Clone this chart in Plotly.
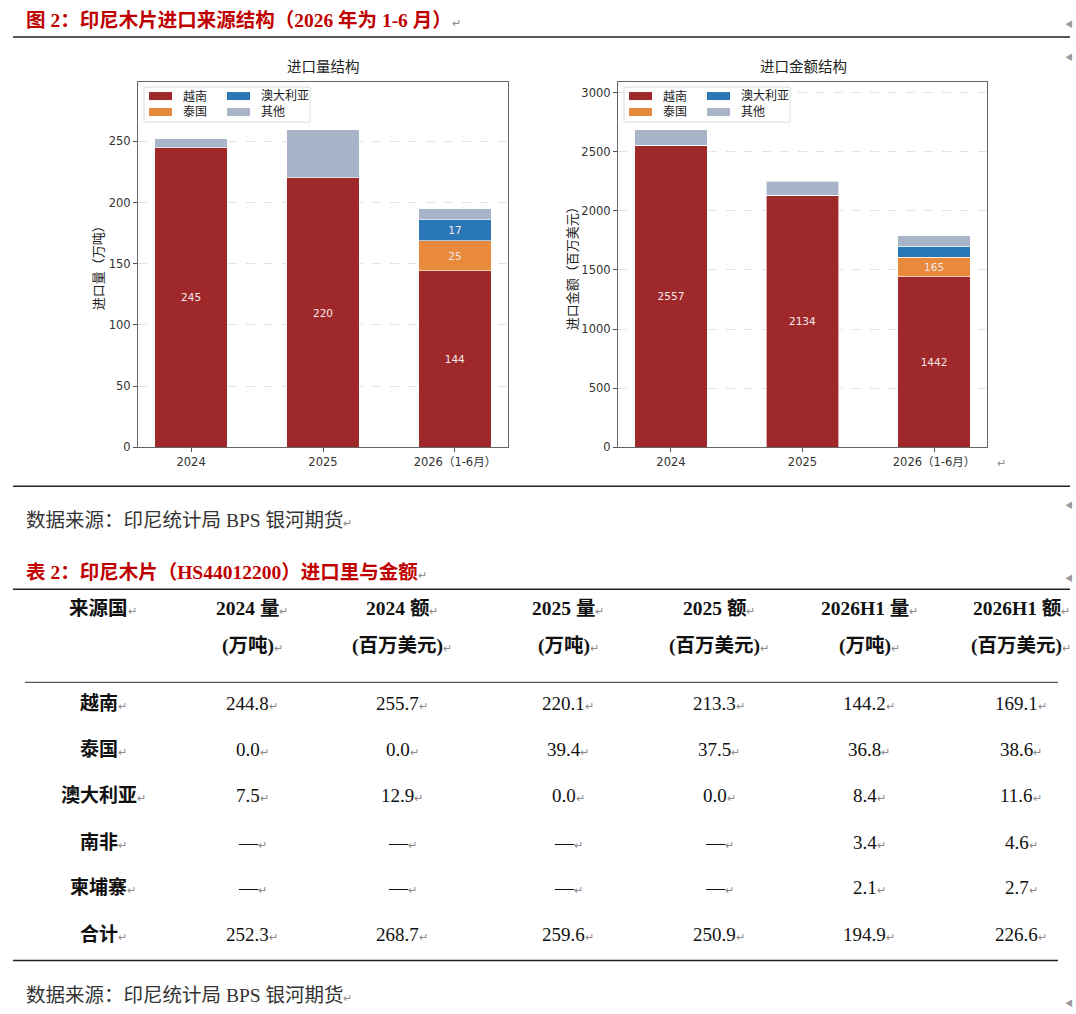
import plotly.graph_objects as go

# ---- chart data ----
years = ["2024", "2025", "2026（1-6月）"]

vol_vn = [244.8, 220.1, 144.2]
vol_th = [0, 0, 24.6]
vol_au = [0, 0, 17.1]
vol_other = [7.5, 39.5, 8.9]
vol_vn_lbl = ["245", "220", "144"]
vol_th_lbl = ["", "", "25"]
vol_au_lbl = ["", "", "17"]

val_vn = [2557, 2134, 1442]
val_th = [0, 0, 165]
val_au = [0, 0, 95]
val_other = [130, 117, 88]
val_vn_lbl = ["2557", "2134", "1442"]
val_th_lbl = ["", "", "165"]

series_names = ["越南", "泰国", "澳大利亚", "其他"]
series_colors = ["#9f282b", "#e8893b", "#2a77b7", "#a8b4c8"]

# ---- table data ----
tbl_rows = ["越南", "泰国", "澳大利亚", "南非", "柬埔寨", "合计"]
tbl_head = ["来源国", "2024 量", "2024 额", "2025 量", "2025 额", "2026H1 量", "2026H1 额"]
tbl_unit = ["", "(万吨)", "(百万美元)", "(万吨)", "(百万美元)", "(万吨)", "(百万美元)"]
vol_2024 = [244.8, 0.0, 7.5, None, None, 252.3]
amt_2024 = [255.7, 0.0, 12.9, None, None, 268.7]
vol_2025 = [220.1, 39.4, 0.0, None, None, 259.6]
amt_2025 = [213.3, 37.5, 0.0, None, None, 250.9]
vol_2026 = [144.2, 36.8, 8.4, 3.4, 2.1, 194.9]
amt_2026 = [169.1, 38.6, 11.6, 4.6, 2.7, 226.6]

W, H = 1076, 1014
K = 1.0075  # the page comes out a little squashed vertically, stretch to compensate
RED = "#c00000"
SANS = "DejaVu Sans, Noto Sans CJK SC, sans-serif"
SERIF = "Liberation Serif, Noto Sans CJK SC, serif"
RET = "<span style='font-size:11px;color:#8a8a8a'>↵</span>"


def px(x):
    return x / W


def py(y):
    return 1 - y * K / H


fig = go.Figure()

charts = [
    ("x", "y", [vol_vn, vol_th, vol_au, vol_other], [vol_vn_lbl, vol_th_lbl, vol_au_lbl, None]),
    ("x2", "y2", [val_vn, val_th, val_au, val_other], [val_vn_lbl, val_th_lbl, None, None]),
]
for xa, ya, values, labels in charts:
    for name, color, vals, lbl in zip(series_names, series_colors, values, labels):
        fig.add_trace(go.Bar(
            x=years, y=vals, name=name, xaxis=xa, yaxis=ya, width=0.55,
            marker=dict(color=color, line=dict(color="white", width=0.6)),
            text=lbl, textposition="inside" if lbl else "none",
            insidetextanchor="middle", textangle=0,
            textfont=dict(color="#f4e8e8", size=10.5, family=SANS),
            showlegend=False,
        ))

axis_common = dict(showline=True, mirror=True, linecolor="#666", linewidth=1.2,
                   ticks="outside", ticklen=4, tickcolor="#555",
                   tickfont=dict(size=11.5, color="#333", family=SANS))
y_common = dict(axis_common, showgrid=True, gridcolor="#e3e3e3", griddash="dash",
                gridwidth=0.8, zeroline=False)
x_common = dict(axis_common, showgrid=False, range=[-0.4025, 2.4025])

y_dom = [py(447), py(82)]
fig.update_layout(
    width=W, height=H, margin=dict(l=0, r=0, t=0, b=0),
    paper_bgcolor="white", plot_bgcolor="white", barmode="stack",
    xaxis=dict(x_common, domain=[px(138), px(508)], anchor="y"),
    yaxis=dict(y_common, domain=y_dom, anchor="x", range=[0, 298.5], dtick=50),
    xaxis2=dict(x_common, domain=[px(618), px(987)], anchor="y2"),
    yaxis2=dict(y_common, domain=y_dom, anchor="x2", range=[0, 3090], dtick=500),
)

ann = []
shapes = []


def text(x, y, s, size, color="#111", family=SERIF, anchor="left", **kw):
    ann.append(dict(x=px(x), y=py(y), xref="paper", yref="paper", text=s, showarrow=False,
                    xanchor=anchor, yanchor="middle",
                    font=dict(size=size, color=color, family=family), **kw))


def hline(x0, x1, y, color="#222", width=1.5):
    shapes.append(dict(type="line", xref="paper", yref="paper", x0=px(x0), x1=px(x1),
                       y0=py(y), y1=py(y), line=dict(color=color, width=width)))


# document headings and rules
text(24, 20, "<b>图 2：印尼木片进口来源结构（2026 年为 1-6 月）</b>" + RET, 19.5, RED)
hline(13, 1070, 37)
hline(13, 1070, 486)
text(24, 520, "数据来源：印尼统计局 BPS 银河期货" + RET, 19.5, "#333")
text(24, 572, "<b>表 2：印尼木片（HS44012200）进口里与金额</b>" + RET, 19.5, RED)
hline(13, 1070, 589)
hline(25, 1058, 682, "#555", 1.2)
hline(13, 1058, 960)
text(24, 995, "数据来源：印尼统计局 BPS 银河期货" + RET, 19.5, "#333")
for yy in [24, 57, 505, 578, 1003]:
    text(1075, yy, "◀", 8, "#9a9a9a", anchor="right")

# chart titles, axis titles, legends
for cx, title, ytitle, ytx, lx in [
    (323, "进口量结构", "进口量（万吨）", 98, 144),
    (803, "进口金额结构", "进口金额（百万美元）", 572, 624),
]:
    text(cx, 67, title, 14.5, "#222", SANS, "center")
    text(ytx, 265, ytitle, 13, "#222", SANS, "center", textangle=-90)
    shapes.append(dict(type="rect", xref="paper", yref="paper", x0=px(lx), x1=px(lx + 166),
                       y0=py(122), y1=py(87), line=dict(color="#dcdcdc", width=1),
                       fillcolor="rgba(255,255,255,0.85)"))
    for i, (name, color) in enumerate(zip(series_names, series_colors)):
        col, row = divmod(i, 2)
        ox = lx + 5 + col * 78
        oy = 96 + row * 16
        shapes.append(dict(type="rect", xref="paper", yref="paper", x0=px(ox), x1=px(ox + 23),
                           y0=py(oy + 4), y1=py(oy - 4), line=dict(width=0), fillcolor=color))
        text(ox + 32, oy, name, 12, "#222", SANS)
text(995, 463, "↵", 11, "#8a8a8a")

# table
col_x = [103, 252, 402, 568, 719, 869, 1021]
row_y = [703, 749, 795, 842, 887, 934]
for cx, h, u in zip(col_x, tbl_head, tbl_unit):
    text(cx, 608, "<b>" + h + "</b>" + RET, 19.5, "#111", SERIF, "center")
    if u:
        text(cx, 646, "<b>" + u + "</b>" + RET, 19.5, "#111", SERIF, "center")
for ry, name in zip(row_y, tbl_rows):
    text(col_x[0], ry, "<b>" + name + "</b>" + RET, 19, "#111", SERIF, "center")
for cx, col in zip(col_x[1:], [vol_2024, amt_2024, vol_2025, amt_2025, vol_2026, amt_2026]):
    for ry, v in zip(row_y, col):
        s = "—" if v is None else f"{v:.1f}"
        text(cx, ry, s + RET, 19, "#111", SERIF, "center")

fig.update_layout(annotations=ann, shapes=shapes)
page_fix = ("document.body.style.margin='0';"
            "document.body.style.overflow='hidden';"
            "document.documentElement.style.overflow='hidden';")
fig.write_html("out.html", config={"displayModeBar": False}, post_script=page_fix)
